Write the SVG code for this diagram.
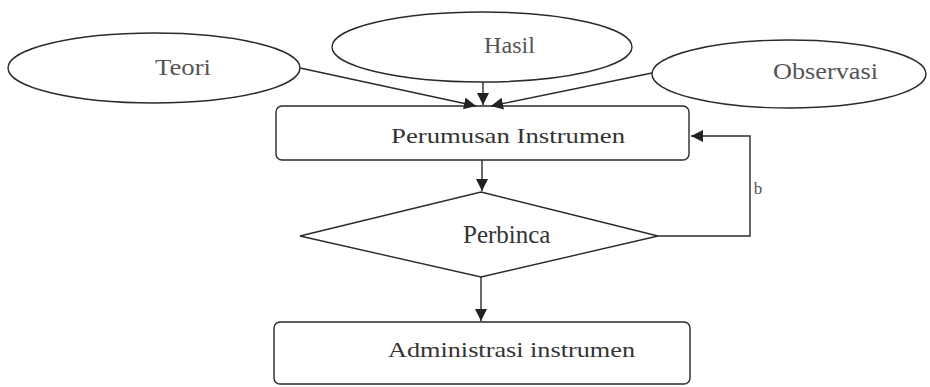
<svg xmlns="http://www.w3.org/2000/svg" width="930" height="387" viewBox="0 0 930 387">
<style>
.shape{fill:none;stroke:#2a2a2a;stroke-width:1.4}
.conn{fill:none;stroke:#2a2a2a;stroke-width:1.4}
.lbl{font-family:"Liberation Serif",serif;fill:#333}
.lt{font-family:"Liberation Serif",serif;fill:#555}
</style>
<defs>
<marker id="ah" viewBox="0 0 10 10" refX="10" refY="5" markerWidth="12" markerHeight="12" markerUnits="userSpaceOnUse" orient="auto">
<path d="M0,0 L10,5 L0,10 z" fill="#222"/>
</marker>
</defs>
<rect width="930" height="387" fill="#ffffff"/>
<g id="teori"><ellipse class="shape" cx="154" cy="68" rx="146" ry="35"/><text class="lt" x="155" y="75" font-size="23" textLength="56" lengthAdjust="spacingAndGlyphs">Teori</text></g>
<g id="hasil"><ellipse class="shape" cx="482" cy="47" rx="150" ry="35"/><text class="lt" x="484" y="53" font-size="23" textLength="51" lengthAdjust="spacingAndGlyphs">Hasil</text></g>
<g id="observasi"><ellipse class="shape" cx="789" cy="74" rx="137" ry="34"/><text class="lt" x="773" y="79" font-size="23" textLength="105" lengthAdjust="spacingAndGlyphs">Observasi</text></g>
<g id="perumusan"><rect class="shape" x="276" y="106" width="413" height="54" rx="6"/><text class="lbl" x="391" y="143" font-size="22" textLength="234" lengthAdjust="spacingAndGlyphs">Perumusan Instrumen</text></g>
<g id="perbinca"><polygon class="shape" points="481,192 658,236 481,277 300,236"/><text class="lbl" x="463" y="243" font-size="25">Perbinca</text></g>
<g id="administrasi"><rect class="shape" x="274" y="322" width="416" height="62" rx="6"/><text class="lbl" x="388" y="357" font-size="22" textLength="247" lengthAdjust="spacingAndGlyphs">Administrasi instrumen</text></g>
<g id="connectors">
<line class="conn" x1="300" y1="68" x2="476" y2="106" marker-end="url(#ah)"/>
<line class="conn" x1="483" y1="82" x2="483" y2="105" marker-end="url(#ah)"/>
<line class="conn" x1="652" y1="73" x2="491" y2="106" marker-end="url(#ah)"/>
<line class="conn" x1="482" y1="160" x2="482" y2="191" marker-end="url(#ah)"/>
<line class="conn" x1="481" y1="277" x2="481" y2="321" marker-end="url(#ah)"/>
<polyline class="conn" points="658,236 750,236 750,136 691,136" marker-end="url(#ah)"/>
<text class="lt" x="758" y="194" font-size="17" text-anchor="middle">b</text>
</g>
</svg>
